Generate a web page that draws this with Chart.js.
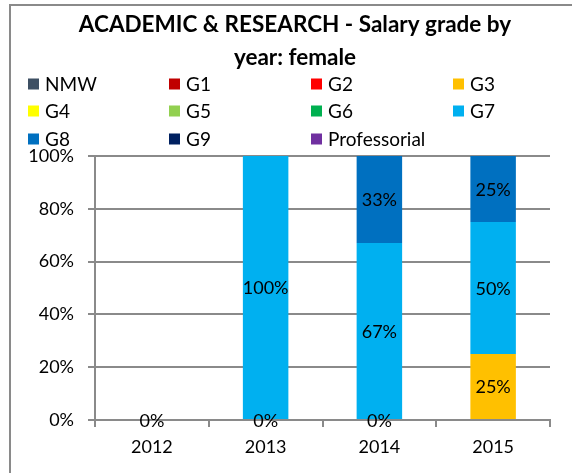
<!DOCTYPE html>
<html lang="en">
<head>
  <meta charset="UTF-8" />
  <title>Salary grade by year: female</title>
  <script src="https://cdn.jsdelivr.net/npm/chart.js"></script>
  <style>
    html, body { margin: 0; padding: 0; background: #fff; }
    #wrap { position: relative; width: 572px; height: 473px; }
  </style>
</head>
<body>
  <div id="wrap">
    <canvas id="chartGrades"></canvas>
  </div>

  <script>
    // Data
    const years = ['2012', '2013', '2014', '2015'];
    const grades = ['NMW', 'G1', 'G2', 'G3', 'G4', 'G5', 'G6', 'G7', 'G8', 'G9', 'Professorial'];
    const gradeColors = [
      '#3D4F63', '#C00000', '#FF0000', '#FFC000', '#FFFF00', '#92D050',
      '#00B050', '#00B0F0', '#0070C0', '#002060', '#7030A0'
    ];
    const nmw = [0, 0, 0, null];
    const g1 = [null, null, null, null];
    const g2 = [null, null, null, null];
    const g3 = [null, null, null, 25];
    const g4 = [null, null, null, null];
    const g5 = [null, null, null, null];
    const g6 = [null, null, null, null];
    const g7 = [null, 100, 67, 50];
    const g8 = [null, null, 33, 25];
    const g9 = [null, null, null, null];
    const professorial = [null, null, null, null];
    const yTicks = [0, 20, 40, 60, 80, 100];
    const titleLines = ['ACADEMIC & RESEARCH - Salary grade by', 'year: female'];

    const seriesValues = [nmw, g1, g2, g3, g4, g5, g6, g7, g8, g9, professorial];
    const fontFam = 'Lato, "Open Sans", sans-serif';

    // frame, title and 4-column legend
    const decorPlugin = {
      id: 'decor',
      beforeDraw(chart) {
        const ctx = chart.ctx;
        ctx.save();
        ctx.fillStyle = '#fff';
        ctx.fillRect(0, 0, chart.width, chart.height);

        ctx.strokeStyle = '#8a8a8a';
        ctx.lineWidth = 2;
        ctx.beginPath();
        ctx.moveTo(10, chart.height);
        ctx.lineTo(10, 5);
        ctx.lineTo(chart.width, 5);
        ctx.stroke();

        ctx.fillStyle = '#000';
        ctx.font = 'bold 22.5px ' + fontFam;
        ctx.textAlign = 'center';
        ctx.textBaseline = 'middle';
        ctx.fillText(titleLines[0], 295, 25);
        ctx.fillText(titleLines[1], 295, 58);

        ctx.font = '19px ' + fontFam;
        ctx.textAlign = 'left';
        const colX = [28, 169, 311, 453];
        const rowY = [84, 111, 139];
        chart.data.datasets.forEach((ds, i) => {
          const x = colX[i % 4];
          const y = rowY[Math.floor(i / 4)];
          ctx.fillStyle = ds.backgroundColor;
          ctx.fillRect(x, y - 5.5, 11, 11);
          ctx.fillStyle = '#000';
          ctx.fillText(ds.label, x + 17, y + 1);
        });
        ctx.restore();
      }
    };

    // value labels centred in each segment
    const valueLabels = {
      id: 'valueLabels',
      afterDatasetsDraw(chart) {
        const ctx = chart.ctx;
        ctx.save();
        ctx.font = '18px ' + fontFam;
        ctx.fillStyle = '#000';
        ctx.textAlign = 'center';
        ctx.textBaseline = 'middle';
        chart.data.datasets.forEach((ds, i) => {
          const meta = chart.getDatasetMeta(i);
          meta.data.forEach((bar, j) => {
            const v = ds.data[j];
            if (v === null || v === undefined) return;
            ctx.fillText(v + '%', bar.x, (bar.y + bar.base) / 2 + 1);
          });
        });
        ctx.restore();
      }
    };

    const ctx = document.getElementById('chartGrades').getContext('2d');
    new Chart(ctx, {
      type: 'bar',
      data: {
        labels: years,
        datasets: grades.map((g, i) => ({
          label: g,
          data: seriesValues[i],
          backgroundColor: gradeColors[i],
          borderWidth: 0,
          barPercentage: 0.4,
          categoryPercentage: 1
        }))
      },
      options: {
        responsive: true,
        maintainAspectRatio: false,
        animation: false,
        layout: { padding: { top: 156, right: 22, left: 0, bottom: 0 } },
        plugins: {
          legend: { display: false },
          title: { display: false },
          tooltip: { enabled: false }
        },
        scales: {
          x: {
            stacked: true,
            afterFit(scale) { scale.height = 53; },
            grid: {
              offset: true,
              drawOnChartArea: false,
              drawTicks: true,
              tickLength: 7,
              color: '#8a8a8a',
              lineWidth: 2
            },
            border: { display: true, color: '#8a8a8a', width: 2 },
            ticks: { color: '#000', padding: 9, font: { family: fontFam, size: 18 } }
          },
          y: {
            stacked: true,
            min: 0,
            max: 100,
            afterFit(scale) { scale.width = 95; },
            afterBuildTicks(scale) { scale.ticks = yTicks.map(v => ({ value: v })); },
            grid: { color: '#8a8a8a', lineWidth: 2, tickLength: 7 },
            border: { display: true, color: '#8a8a8a', width: 2 },
            ticks: {
              color: '#000',
              padding: 14,
              font: { family: fontFam, size: 18 },
              callback: v => v + '%'
            }
          }
        }
      },
      plugins: [decorPlugin, valueLabels]
    });
  </script>
</body>
</html>
